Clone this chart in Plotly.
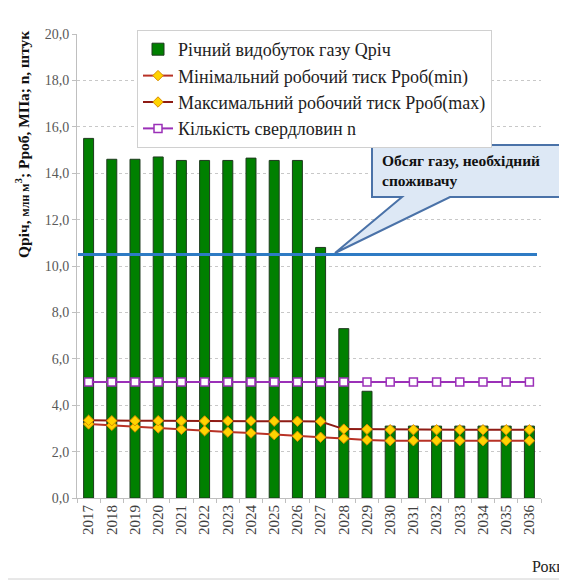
import plotly.graph_objects as go

# ---- data ----
years = [str(y) for y in range(2017, 2037)]
gas_output = [15.5, 14.6, 14.6, 14.7, 14.55, 14.55, 14.55, 14.65, 14.55, 14.55,
              10.8, 7.3, 4.6, 3.1, 3.1, 3.1, 3.1, 3.1, 3.1, 3.1]
p_min = [3.19, 3.13, 3.06, 3.02, 2.96, 2.90, 2.84, 2.80, 2.73, 2.66,
         2.62, 2.57, 2.50, 2.47, 2.47, 2.47, 2.47, 2.47, 2.47, 2.47]
p_max = [3.35, 3.33, 3.33, 3.33, 3.32, 3.32, 3.32, 3.32, 3.31, 3.31,
         3.30, 2.97, 2.96, 2.94, 2.94, 2.94, 2.94, 2.94, 2.94, 2.94]
wells = [5] * 20
demand = 10.5

y_ticks = [0, 2, 4, 6, 8, 10, 12, 14, 16, 18, 20]

# ---- layout geometry (screen pixels; page body has an 8px offset) ----
OFF = 8
W, H = 567, 582
L, T = 77 - OFF, 34 - OFF
R = W - (541 - OFF)
B = H - (498 - OFF)
PW, PH = W - L - R, H - T - B


def px(x):
    return (x - OFF - L) / PW


def py(y):
    return (H - B - (y - OFF)) / PH


SERIF = "Liberation Serif"
LEG_FONT = "Times New Roman"
TICK_FONT = "serif"

fig = go.Figure()
fig.add_trace(go.Bar(
    x=years, y=gas_output, name="Річний видобуток газу Qріч",
    marker=dict(color="#008000", line=dict(color="#1e3a1e", width=1)),
))
fig.add_trace(go.Scatter(
    x=years, y=p_min, name="Мінімальний робочий тиск Рроб(min)", mode="lines+markers",
    line=dict(color="#b83226", width=2),
    marker=dict(symbol="diamond", size=8, color="#ffd400", line=dict(color="#d98c00", width=1)),
))
fig.add_trace(go.Scatter(
    x=years, y=p_max, name="Максимальний робочий тиск Рроб(max)", mode="lines+markers",
    line=dict(color="#8e1b14", width=2),
    marker=dict(symbol="diamond", size=8, color="#ffd400", line=dict(color="#d98c00", width=1)),
))
fig.add_trace(go.Scatter(
    x=years, y=wells, name="Кількість свердловин n", mode="lines+markers",
    line=dict(color="#9b30b8", width=2),
    marker=dict(symbol="square", size=8, color="white", line=dict(color="#9b30b8", width=1.5)),
))

shapes = [
    # outer chart border
    dict(type="rect", xref="paper", yref="paper", x0=px(5), x1=px(590), y0=py(579), y1=py(7),
         line=dict(color="#d0d0d0", width=1), layer="below"),
    # demand line
    dict(type="line", xref="paper", yref="y", x0=px(78), x1=px(537), y0=demand, y1=demand,
         line=dict(color="#2e7bc4", width=3)),
    # callout
    dict(type="path", xref="paper", yref="paper",
         path=("M {a},{b} L {c},{b} L {c},{d} L {e},{d} L {f},{g} L {h},{d} L {a},{d} Z").format(
             a=px(372), b=py(145), c=px(561), d=py(197), e=px(450), f=px(335), g=py(253), h=px(402)),
         fillcolor="#dde8f5", line=dict(color="#4a72a8", width=2)),
]

annotations = [
    dict(text="<b>Обсяг газу, необхідний<br>споживачу</b>", xref="paper", yref="paper",
         x=px(380), y=py(150), xanchor="left", yanchor="top", align="left", showarrow=False,
         font=dict(family=SERIF, size=15.5, color="#111")),
    dict(text="<b>Qріч, <span style='font-size:12px'>млн м</span><sup>3</sup>; Рроб, МПа; n, штук</b>",
         xref="paper", yref="paper", x=px(22), y=py(145), textangle=-90,
         xanchor="center", yanchor="middle", showarrow=False,
         font=dict(family=SERIF, size=15.5, color="#111")),
    dict(text="Роки", xref="paper", yref="paper", x=px(530), y=py(566),
         xanchor="left", yanchor="middle", showarrow=False,
         font=dict(family=SERIF, size=16, color="#222")),
]

fig.update_layout(
    template="none",
    width=W, height=H,
    margin=dict(l=L, r=R, t=T, b=B, autoexpand=False),
    font=dict(family=SERIF, size=14, color="#222"),
    paper_bgcolor="white", plot_bgcolor="white",
    bargap=0.57,
    separators=",.",
    showlegend=True,
    legend=dict(x=px(137), y=py(30), xanchor="left", yanchor="top",
                bgcolor="white", bordercolor="#d0d0d0", borderwidth=1,
                font=dict(family=LEG_FONT, size=18, color="#222"),
                traceorder="normal"),
    shapes=shapes,
    annotations=annotations,
    xaxis=dict(type="category", range=[-0.5, len(years) - 0.5], tickangle=-90,
               tickson="boundaries", ticks="outside",
               ticklen=4, tickcolor="#bfbfbf", showline=True, linecolor="#bfbfbf",
               automargin=False,
               tickfont=dict(family=TICK_FONT, size=15, color="#404040"), showgrid=False),
    yaxis=dict(range=[0, 20], tickvals=y_ticks, tickformat=".1f", ticks="outside", ticklen=4,
               tickcolor="#bfbfbf", showline=True, linecolor="#bfbfbf", automargin=False,
               showgrid=True, gridcolor="#c8c8c8", griddash="dot", zeroline=False,
               tickfont=dict(family=TICK_FONT, size=14, color="#595959")),
)

fig.write_html("out.html")
